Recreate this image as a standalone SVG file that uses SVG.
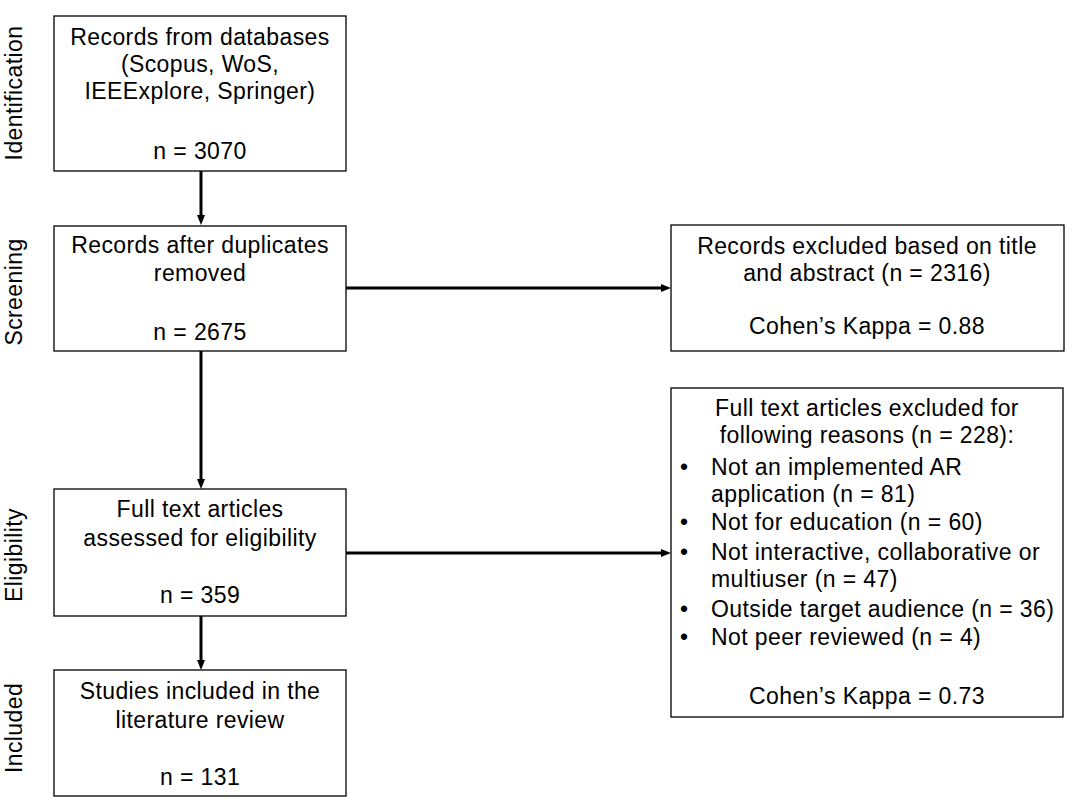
<svg xmlns="http://www.w3.org/2000/svg" width="1082" height="812" viewBox="0 0 1082 812">
<defs>
<style>
text{font-family:"Liberation Sans",Arial,sans-serif;font-size:23px;fill:#000;letter-spacing:0.4px}
.c{text-anchor:middle}
.box{fill:#fff;stroke:#000;stroke-width:1.3}
.conn{stroke:#000;stroke-width:3;fill:none;marker-end:url(#ah)}
</style>
<marker id="ah" markerUnits="userSpaceOnUse" markerWidth="10" markerHeight="8" refX="4" refY="4" orient="auto">
<path d="M0,0 L10,4 L0,8 z" fill="#000"/>
</marker>
</defs>
<rect width="1082" height="812" fill="#fff"/>
<g id="phases">
<text class="c" transform="translate(22,93) rotate(-90)">Identification</text>
<text class="c" transform="translate(22,292) rotate(-90)">Screening</text>
<text class="c" transform="translate(22,555) rotate(-90)">Eligibility</text>
<text class="c" transform="translate(22,728) rotate(-90)">Included</text>
</g>
<g id="connectors">
<line class="conn" x1="201" y1="171" x2="201" y2="219"/>
<line class="conn" x1="201" y1="351" x2="201" y2="483"/>
<line class="conn" x1="201" y1="616" x2="201" y2="664"/>
<line class="conn" x1="346" y1="288" x2="665" y2="288"/>
<line class="conn" x1="346" y1="553" x2="665" y2="553"/>
</g>
<g id="identification">
<rect class="box" x="54" y="16" width="292" height="155"/>
<text class="c" x="200" y="45">Records from databases</text>
<text class="c" x="200" y="72">(Scopus, WoS,</text>
<text class="c" x="200" y="99">IEEExplore, Springer)</text>
<text class="c" x="200" y="159">n = 3070</text>
</g>
<g id="screening">
<rect class="box" x="54" y="226" width="292" height="125"/>
<text class="c" x="200" y="253">Records after duplicates</text>
<text class="c" x="200" y="281">removed</text>
<text class="c" x="200" y="340">n = 2675</text>
</g>
<g id="excluded-title">
<rect class="box" x="671" y="225" width="393" height="126"/>
<text class="c" x="867" y="254">Records excluded based on title</text>
<text class="c" x="867" y="281">and abstract (n = 2316)</text>
<text class="c" x="867" y="334">Cohen’s Kappa = 0.88</text>
</g>
<g id="eligibility">
<rect class="box" x="54" y="489" width="292" height="127"/>
<text class="c" x="200" y="517">Full text articles</text>
<text class="c" x="200" y="546">assessed for eligibility</text>
<text class="c" x="200" y="603">n = 359</text>
</g>
<g id="excluded-fulltext">
<rect class="box" x="671" y="388" width="392" height="329"/>
<text class="c" x="867" y="416">Full text articles excluded for</text>
<text class="c" x="867" y="443">following reasons (n = 228):</text>
<text x="680" y="475">•</text><text x="711" y="475">Not an implemented AR</text>
<text x="711" y="502">application (n = 81)</text>
<text x="680" y="530">•</text><text x="711" y="530">Not for education (n = 60)</text>
<text x="680" y="560">•</text><text x="711" y="560">Not interactive, collaborative or</text>
<text x="711" y="587">multiuser (n = 47)</text>
<text x="680" y="617">•</text><text x="711" y="617">Outside target audience (n = 36)</text>
<text x="680" y="645">•</text><text x="711" y="645">Not peer reviewed (n = 4)</text>
<text class="c" x="867" y="704">Cohen’s Kappa = 0.73</text>
</g>
<g id="included">
<rect class="box" x="54" y="670" width="292" height="126"/>
<text class="c" x="200" y="699">Studies included in the</text>
<text class="c" x="200" y="728">literature review</text>
<text class="c" x="200" y="785">n = 131</text>
</g>
</svg>
